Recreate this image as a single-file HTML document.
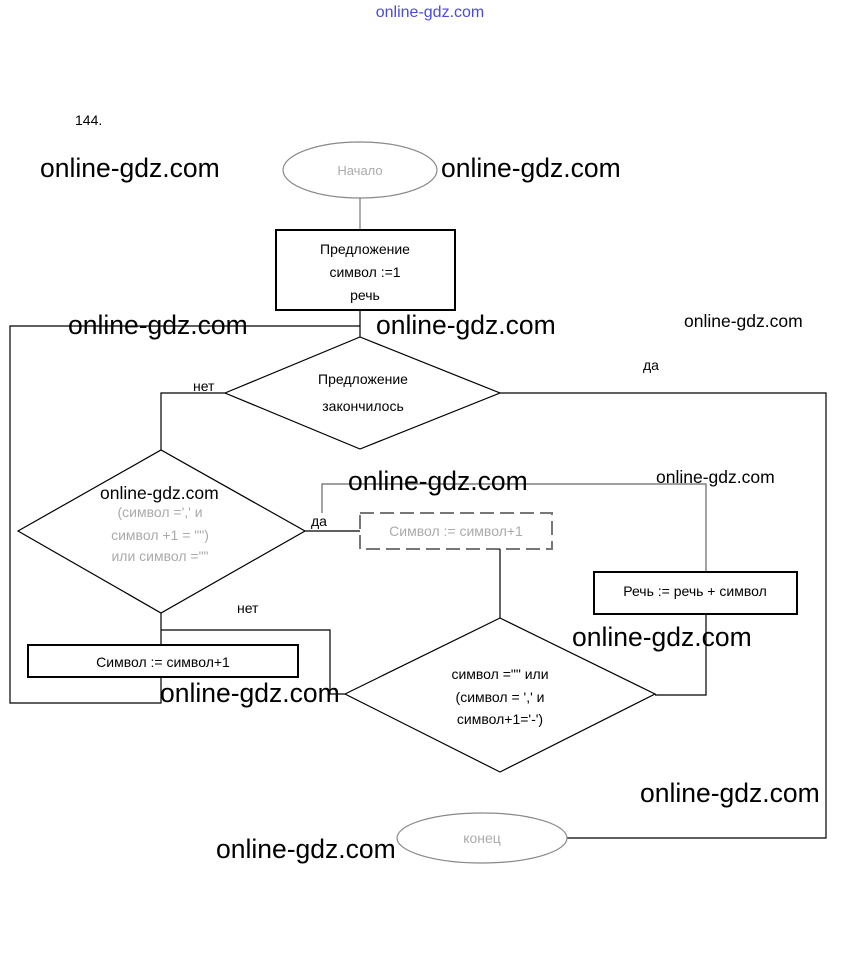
<!DOCTYPE html>
<html><head><meta charset="utf-8"><style>
html,body{margin:0;padding:0;background:#fff;}
svg{display:block;font-family:"Liberation Sans",sans-serif;}
.wm{font-size:26.5px;fill:#000;}
.sm{font-size:17.5px;fill:#000;}
.t{font-size:14px;fill:#000;text-anchor:middle;}
.g{font-size:14px;fill:#aaa;text-anchor:middle;}
</style></head><body>
<svg width="860" height="976" viewBox="0 0 860 976">
<text x="430" y="17" text-anchor="middle" style="font-size:16px;fill:#4a4adf">online-gdz.com</text>
<text x="75" y="125" class="sm" style="font-size:14px">144.</text>
<g fill="none" stroke="#000" stroke-width="1.2">
<ellipse cx="360" cy="170" rx="77" ry="28" stroke="#888"/>
<line x1="360" y1="198" x2="360" y2="230" stroke="#777"/>
<rect x="276" y="230" width="179" height="80" stroke-width="2"/>
<line x1="360" y1="310" x2="360" y2="337"/>
<polyline points="360,326 10,326 10,703 161,703 161,677"/>
<polygon points="225,393 360,337 500,393 360,449"/>
<polyline points="225,393 161,393 161,450"/>
<polyline points="500,393 826,393 826,838 567,838"/>
<polygon points="18,531 161,450 305,531 161,613"/>
<line x1="305" y1="531" x2="360" y2="531"/>
<rect x="360" y="513" width="192" height="36" stroke="#777" stroke-dasharray="14,6" stroke-width="2"/>
<polyline points="322,513 322,484 706,484 706,572" stroke="#666"/>
<rect x="594" y="572" width="203" height="42" stroke-width="2"/>
<polyline points="706,614 706,695 655,695"/>
<line x1="500" y1="549" x2="500" y2="618"/>
<polygon points="345,694 500,618 655,694 500,772"/>
<line x1="161" y1="613" x2="161" y2="645"/>
<polyline points="161,630 330,630 330,694 345,694"/>
<rect x="28" y="645" width="270" height="32" stroke-width="2"/>
<ellipse cx="482" cy="838" rx="85" ry="25" stroke="#888"/>
</g>
<text x="360" y="175" class="g" style="font-size:13px">Начало</text>
<text x="365" y="254" class="t">Предложение</text>
<text x="365" y="277" class="t">символ :=1</text>
<text x="365" y="300" class="t">речь</text>
<text x="363" y="384" class="t">Предложение</text>
<text x="363" y="411" class="t">закончилось</text>
<text x="193" y="391" class="sm" style="font-size:14px">нет</text>
<text x="643" y="370" class="sm" style="font-size:14px">да</text>
<text x="160" y="517" class="g">(символ =',' и</text>
<text x="160" y="540" class="g">символ +1 = "")</text>
<text x="160" y="561" class="g">или символ =""</text>
<text x="311" y="526" class="sm" style="font-size:14px">да</text>
<text x="456" y="536" class="g">Символ := символ+1</text>
<text x="695" y="596" class="t">Речь := речь + символ</text>
<text x="237" y="613" class="sm" style="font-size:14px">нет</text>
<text x="163" y="667" class="t">Символ := символ+1</text>
<text x="500" y="679" class="t">символ ="" или</text>
<text x="500" y="702" class="t">(символ = ',' и</text>
<text x="500" y="724" class="t">символ+1='-')</text>
<text x="482" y="843" class="g">конец</text>
<text x="40" y="177" class="wm">online-gdz.com</text>
<text x="441" y="177" class="wm">online-gdz.com</text>
<text x="68" y="334" class="wm">online-gdz.com</text>
<text x="376" y="334" class="wm">online-gdz.com</text>
<text x="348" y="490" class="wm">online-gdz.com</text>
<text x="160" y="702" class="wm">online-gdz.com</text>
<text x="572" y="646" class="wm">online-gdz.com</text>
<text x="640" y="802" class="wm">online-gdz.com</text>
<text x="216" y="858" class="wm">online-gdz.com</text>
<text x="684" y="327" class="sm">online-gdz.com</text>
<text x="656" y="483" class="sm">online-gdz.com</text>
<text x="100" y="499" class="sm">online-gdz.com</text>
</svg>
</body></html>
